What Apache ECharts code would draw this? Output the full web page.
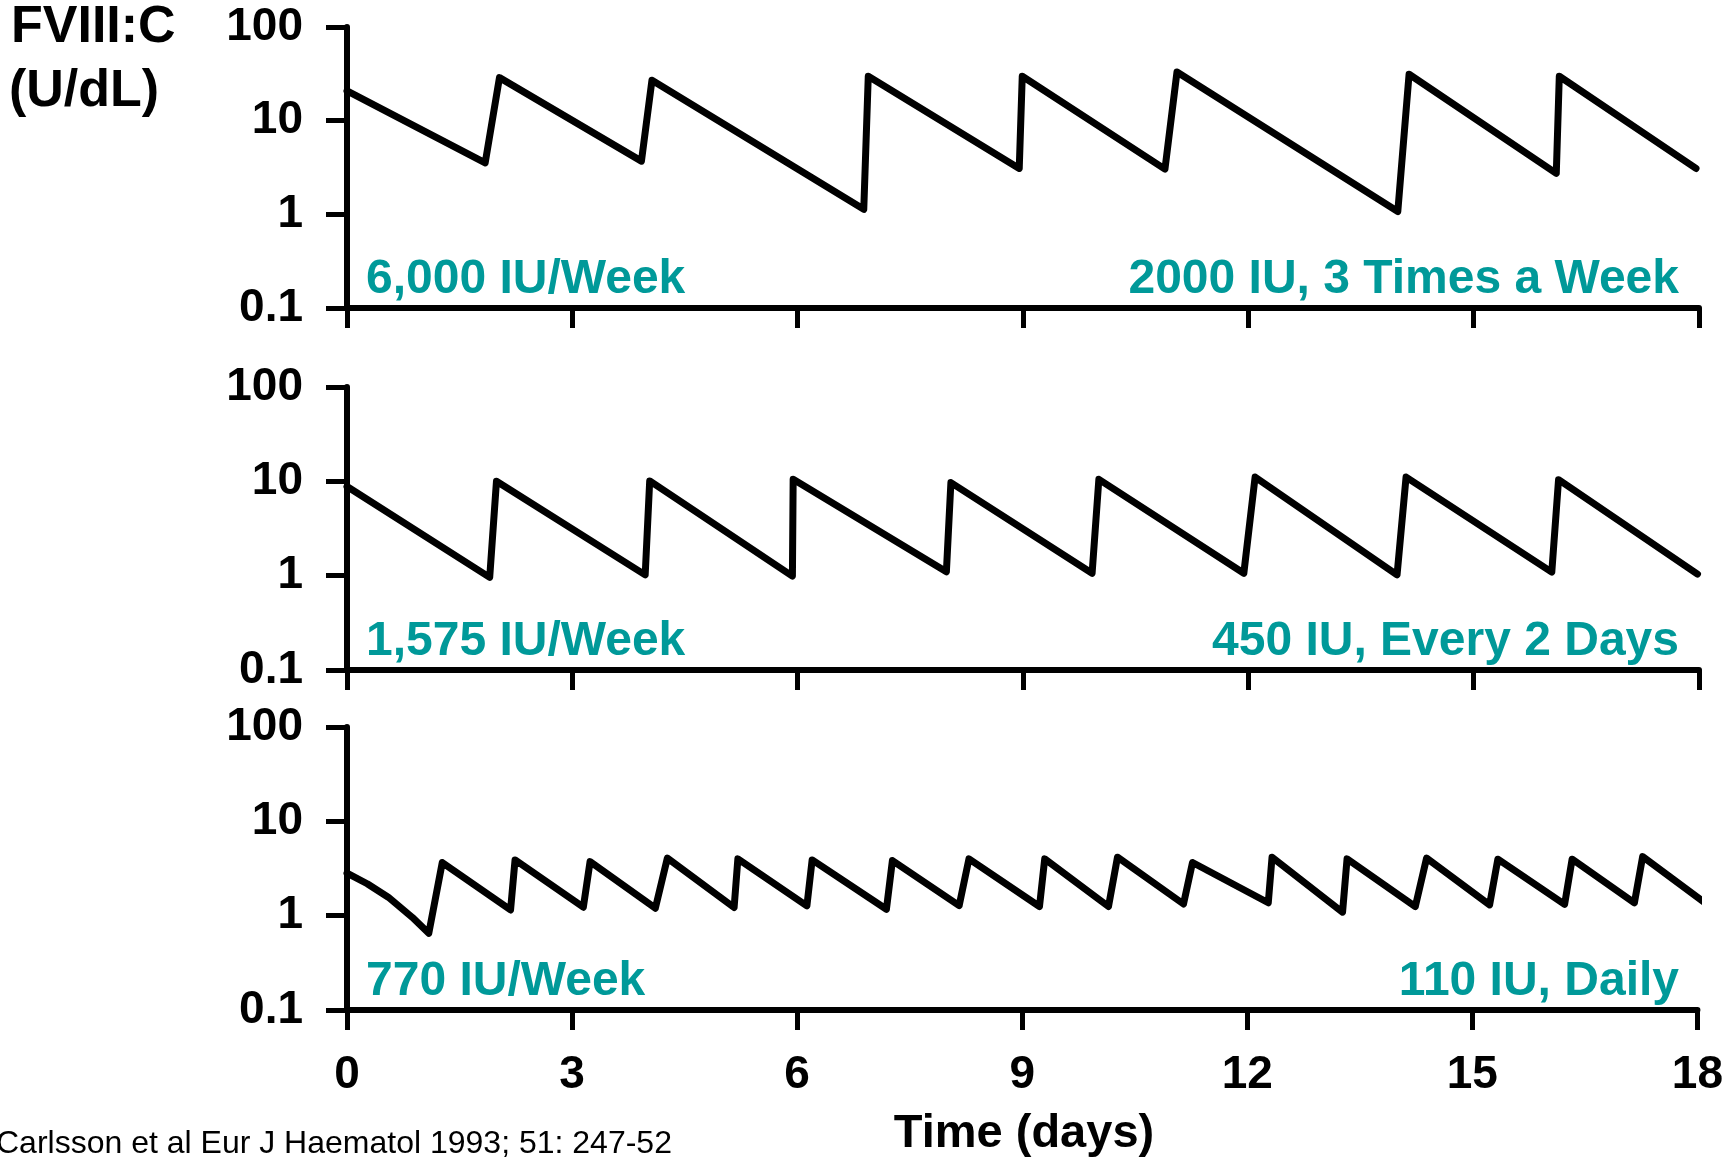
<!DOCTYPE html>
<html>
<head>
<meta charset="utf-8">
<script src="https://cdn.jsdelivr.net/npm/echarts@6/dist/echarts.min.js"></script>
<style>
  html, body { margin: 0; padding: 0; background: #fff; }
  #chart { width: 1726px; height: 1158px; }
</style>
</head>
<body>
<div id="chart"></div>
<script>
// FVIII:C levels (U/dL) over time (days)
var xTicks = [0, 3, 6, 9, 12, 15, 18];
var yTicks = ['0.1', '1', '10', '100'];

var days6000 = [0, 1.84, 2.03, 3.92, 4.06, 6.88, 6.94, 8.95, 8.99, 10.89, 11.05, 13.99, 14.14, 16.1, 16.14, 17.96];
var fviii6000 = [20.8, 3.55, 28.8, 3.7, 27, 1.13, 29.8, 3.09, 29.8, 3.04, 33.1, 1.07, 31.3, 2.74, 29.8, 3.09];

var days1575 = [0, 1.9, 1.99, 3.97, 4.03, 5.93, 5.94, 7.98, 8.04, 9.92, 10.01, 11.94, 12.09, 13.98, 14.1, 16.04, 16.13, 17.98];
var fviii1575 = [8.8, 0.96, 10, 1.02, 10.1, 0.99, 10.5, 1.1, 9.7, 1.06, 10.5, 1.06, 11.1, 1.02, 11.1, 1.09, 10.4, 1.04];

var days770 = [0, 0.27, 0.55, 0.87, 1.09, 1.27, 2.18, 2.24, 3.15, 3.24, 4.11, 4.27, 5.16, 5.21, 6.13, 6.2, 7.19, 7.27,
  8.16, 8.29, 9.23, 9.3, 10.15, 10.27, 11.15, 11.27, 12.28, 12.33, 13.27, 13.33, 14.24, 14.39, 15.23, 15.34,
  16.23, 16.33, 17.16, 17.27, 18.1];
var fviii770 = [2.82, 2.18, 1.57, 0.96, 0.65, 3.66, 1.15, 3.9, 1.23, 3.74, 1.2, 4.07, 1.22, 4.0, 1.27, 3.9, 1.17, 3.84,
  1.28, 4.0, 1.25, 4.0, 1.25, 4.17, 1.33, 3.66, 1.37, 4.17, 1.09, 4.0, 1.25, 4.07, 1.3, 3.97,
  1.32, 3.97, 1.37, 4.23, 1.37];

var weekly = ['6,000 IU/Week', '1,575 IU/Week', '770 IU/Week'];
var regimens = ['2000 IU, 3 Times a Week', '450 IU, Every 2 Days', '110 IU, Daily'];

var FONT = '"Liberation Sans", Arial, sans-serif';
var TEAL = '#009999';

function pairs(xs, ys) {
  return xs.map(function (x, i) { return [x, ys[i]]; });
}

var chart = echarts.init(document.getElementById('chart'), null, { renderer: 'canvas' });

var grids = [
  { left: 347, top: 27, width: 1352, height: 281 },
  { left: 347, top: 387, width: 1352, height: 283 },
  { left: 347, top: 727, width: 1352, height: 283 }
];

var xAxes = grids.map(function (g, i) {
  return {
    type: 'value',
    gridIndex: i,
    min: xTicks[0],
    max: xTicks[xTicks.length - 1],
    interval: 3,
    axisLine: { lineStyle: { color: '#000', width: 6 } },
    axisTick: { show: true, inside: false, length: 20, lineStyle: { color: '#000', width: 5 } },
    axisLabel: {
      show: i === 2,
      margin: 42,
      color: '#000',
      fontFamily: FONT,
      fontWeight: 'bold',
      fontSize: 46
    },
    splitLine: { show: false }
  };
});

var yAxes = grids.map(function (g, i) {
  return {
    type: 'log',
    logBase: 10,
    gridIndex: i,
    min: Number(yTicks[0]),
    max: Number(yTicks[yTicks.length - 1]),
    axisLine: { show: true, lineStyle: { color: '#000', width: 6 } },
    axisTick: { show: true, inside: false, length: 21, lineStyle: { color: '#000', width: 5 } },
    minorTick: { show: false },
    axisLabel: {
      margin: 44,
      color: '#000',
      fontFamily: FONT,
      fontWeight: 'bold',
      fontSize: 46,
      padding: [6, 0, 0, 0],
      formatter: function (v) { return String(v); }
    },
    splitLine: { show: false }
  };
});

var lineStyle = { color: '#000', width: 7, cap: 'round', join: 'round' };

var series = [
  [days6000, fviii6000],
  [days1575, fviii1575],
  [days770, fviii770]
].map(function (d, i) {
  return {
    type: 'line',
    xAxisIndex: i,
    yAxisIndex: i,
    data: pairs(d[0], d[1]),
    symbol: 'none',
    clip: false,
    lineStyle: lineStyle
  };
});

function label(text, x, y, align, size, color, weight) {
  return {
    type: 'text',
    x: x,
    y: y,
    silent: true,
    style: {
      text: text,
      fill: color,
      font: (weight || 'bold') + ' ' + size + 'px ' + FONT,
      align: align,
      verticalAlign: 'middle'
    }
  };
}

var graphics = [
  label('FVIII:C', 11, 28, 'left', 52, '#000'),
  label('(U/dL)', 9, 92, 'left', 52, '#000'),
  label('Time (days)', 1024, 1134, 'center', 47, '#000'),
  label('Carlsson et al Eur J Haematol 1993; 51: 247-52', -4, 1144, 'left', 32, '#000', 'normal')
];
var baselines = [280, 642, 982];
baselines.forEach(function (y, i) {
  graphics.push(label(weekly[i], 366, y, 'left', 48, TEAL));
  graphics.push(label(regimens[i], 1679, y, 'right', 48, TEAL));
});

chart.setOption({
  animation: false,
  backgroundColor: '#fff',
  grid: grids,
  xAxis: xAxes,
  yAxis: yAxes,
  series: series,
  graphic: graphics
});
</script>
</body>
</html>
